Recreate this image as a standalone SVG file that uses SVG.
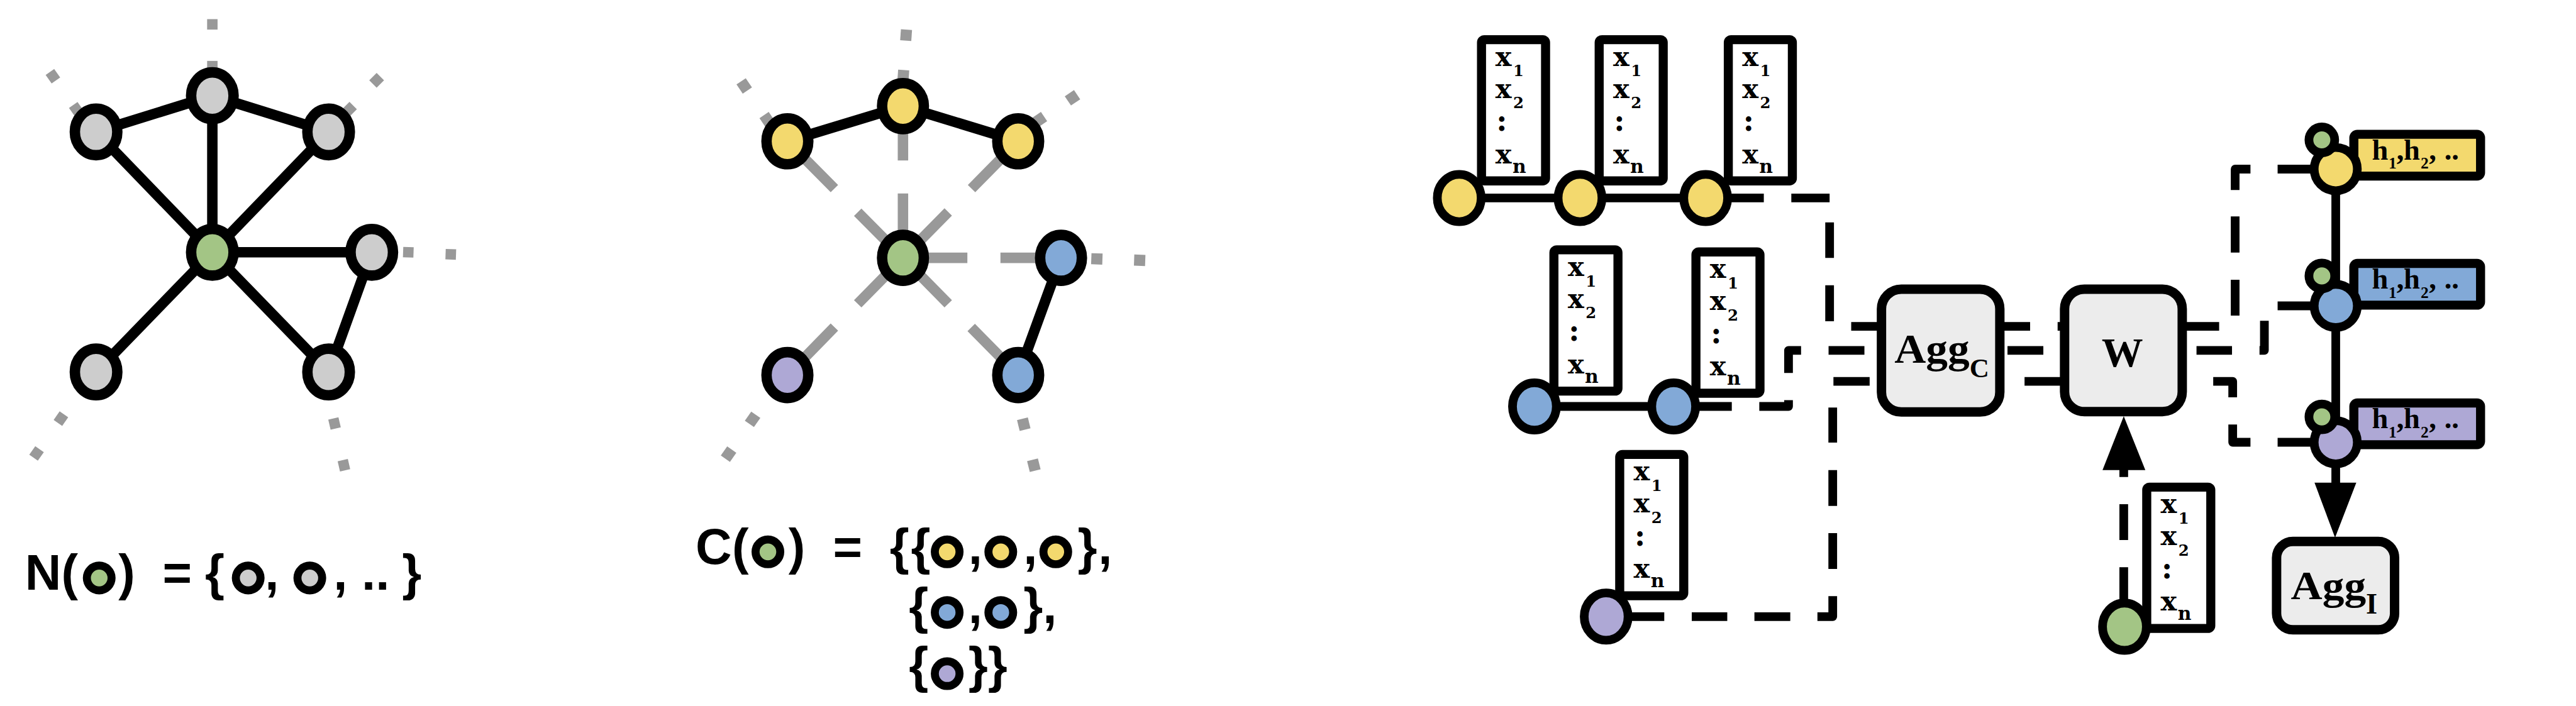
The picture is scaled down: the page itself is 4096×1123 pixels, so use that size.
<svg xmlns="http://www.w3.org/2000/svg" width="4096" height="1123" viewBox="0 0 4096 1123">
<defs>
<style>
.e{stroke:#000;stroke-width:30;fill:none}
.ge{stroke:#999;stroke-width:30;fill:none}
.dot{fill:#999}
.c{stroke:#000;stroke-width:25;fill:none}
.arr{fill:#000}
.n{stroke:#000;stroke-width:30}
.n2{stroke:#000;stroke-width:25}
.fc{stroke:#000;stroke-width:23}
.gray{fill:#cdcdcd}.grn{fill:#a3c585}.yel{fill:#f3d96e}.blu{fill:#82a9d7}.pur{fill:#aea8d5}
.box{fill:#fff;stroke:#000;stroke-width:26}
.agg{fill:#ececec;stroke:#000;stroke-width:27}
.lab{stroke:#000;stroke-width:26}
.sym{font-family:"Liberation Sans",Arial,sans-serif;font-weight:bold;font-size:144px;text-anchor:middle;fill:#000}
.xv{font-family:"DejaVu Serif",serif;font-weight:bold;font-size:78px;fill:#000}
.xc{font-family:"DejaVu Serif",serif;font-weight:bold;font-size:84px;fill:#000;text-anchor:middle}
.xs{font-family:"DejaVu Serif",serif;font-weight:bold;font-size:44px;fill:#000}
.xn{font-family:"DejaVu Serif",serif;font-weight:bold;font-size:54px;fill:#000}
.ag{font-family:"Liberation Serif","Times New Roman",serif;font-weight:bold;fill:#000}
.hl{font-family:"Liberation Serif","Times New Roman",serif;font-weight:bold;font-size:84px;fill:#000}
.hs{font-size:46px}
</style>
</defs>
<rect x="0" y="0" width="4096" height="1123" fill="#fff"/>
<g transform="scale(0.5535)">
<g id="connectors">
  <g class="dot">
    <rect x="-15" y="-15" width="30" height="30" transform="translate(610,70)"/>
    <rect x="-15" y="-15" width="30" height="30" transform="translate(610,190)"/>
    <rect x="-15" y="-15" width="30" height="30" transform="translate(152,219) rotate(55)"/>
    <rect x="-15" y="-15" width="30" height="30" transform="translate(219,314) rotate(55)"/>
    <rect x="-15" y="-15" width="30" height="30" transform="translate(1082,231) rotate(45)"/>
    <rect x="-15" y="-15" width="30" height="30" transform="translate(1004,314) rotate(45)"/>
    <rect x="-15" y="-15" width="30" height="30" transform="translate(1173,725) rotate(2)"/>
    <rect x="-15" y="-15" width="30" height="30" transform="translate(1295,731) rotate(2)"/>
    <rect x="-15" y="-15" width="30" height="30" transform="translate(175,1203) rotate(35)"/>
    <rect x="-15" y="-15" width="30" height="30" transform="translate(105,1303) rotate(35)"/>
    <rect x="-15" y="-15" width="30" height="30" transform="translate(961,1217) rotate(-13)"/>
    <rect x="-15" y="-15" width="30" height="30" transform="translate(988,1337) rotate(-13)"/>
    <rect x="-16" y="-16" width="32" height="32" transform="translate(2603,101) rotate(4)"/>
    <rect x="-16" y="-16" width="32" height="32" transform="translate(2595,217) rotate(4)"/>
    <rect x="-16" y="-16" width="32" height="32" transform="translate(2138,247) rotate(56)"/>
    <rect x="-16" y="-16" width="32" height="32" transform="translate(2204,344) rotate(56)"/>
    <rect x="-16" y="-16" width="32" height="32" transform="translate(3081,281) rotate(-34)"/>
    <rect x="-16" y="-16" width="32" height="32" transform="translate(2986,344) rotate(-34)"/>
    <rect x="-16" y="-16" width="32" height="32" transform="translate(3151,744) rotate(2)"/>
    <rect x="-16" y="-16" width="32" height="32" transform="translate(3274,748) rotate(2)"/>
    <rect x="-16" y="-16" width="32" height="32" transform="translate(2162,1205) rotate(35)"/>
    <rect x="-16" y="-16" width="32" height="32" transform="translate(2093,1305) rotate(35)"/>
    <rect x="-16" y="-16" width="32" height="32" transform="translate(2941,1219) rotate(-14)"/>
    <rect x="-16" y="-16" width="32" height="32" transform="translate(2970,1337) rotate(-14)"/>
  </g>
  <path class="e" d="M276 379L610 275M610 275L944 379M610 275L610 725M276 379L610 725M944 379L610 725M610 725L1068 725M610 725L276 1069M610 725L944 1069M1068 725L944 1069"/>
  <path class="ge" d="M2594 741V556M2594 461V305M2594 741L2464 610M2397 542L2262 406M2594 741L2724 609M2791 542L2925 406M2594 741H2779M2874 741H3048M2594 741L2464 873M2397 940L2262 1078M2594 741L2724 873M2790 941L2925 1078"/>
  <path class="e" d="M2262 406L2594 305L2925 406M3048 741L2925 1078"/>
  <path class="c" d="M4192 569H5067M4408 1168H4975M4614 1772H4781"/>
  <path class="c" stroke-linejoin="round" d="M5146 569H5256M5256 639V741M5256 820V923M5318 938H5405"/>
  <path class="c" stroke-linejoin="round" d="M5054 1168H5138V1150M5138 1072V1007H5174M5253 1007H5356"/>
  <path class="c" stroke-linejoin="round" d="M4860 1772H4962M5040 1772H5143M5221 1772H5265V1713M5265 1635V1532M5265 1454V1351M5265 1272V1171M5267 1096H5371"/>
  <path class="c" d="M5745 938H5832M5911 938H5931M5767 1007H5870M5816 1096H5931"/>
  <path class="c" stroke-linejoin="round" d="M6269 938H6375M6421 907V804M6421 726V622M6421 546V486H6465M6543 486H6650"/>
  <path class="c" stroke-linejoin="round" d="M6310 1007H6412M6491 1007H6505V922M6543 879H6650"/>
  <path class="c" stroke-linejoin="round" d="M6358 1096H6414V1142M6414 1220V1271H6465M6543 1271H6650"/>
  <path class="c" d="M6710 486V1390"/>
  <polygon class="arr" points="6649,1387 6769,1387 6708,1545"/>
  <path class="c" d="M6101 1340V1371M6101 1449V1552M6101 1630V1740"/>
  <polygon class="arr" points="6040,1351 6163,1351 6101,1196"/>
</g>

<g id="n-top"><ellipse class="n gray" cx="610" cy="275" rx="61" ry="67"/></g>
<g id="n-ul"><ellipse class="n gray" cx="276" cy="379" rx="61" ry="67"/></g>
<g id="n-ur"><ellipse class="n gray" cx="944" cy="379" rx="61" ry="67"/></g>
<g id="n-center"><ellipse class="n grn" cx="610" cy="725" rx="61" ry="67"/></g>
<g id="n-right"><ellipse class="n gray" cx="1068" cy="725" rx="61" ry="67"/></g>
<g id="n-bl"><ellipse class="n gray" cx="276" cy="1069" rx="61" ry="67"/></g>
<g id="n-br"><ellipse class="n gray" cx="944" cy="1069" rx="61" ry="67"/></g>

<g id="c-top"><ellipse class="n yel" cx="2594" cy="305" rx="60" ry="66"/></g>
<g id="c-ul"><ellipse class="n yel" cx="2262" cy="406" rx="60" ry="66"/></g>
<g id="c-ur"><ellipse class="n yel" cx="2925" cy="406" rx="60" ry="66"/></g>
<g id="c-center"><ellipse class="n grn" cx="2594" cy="741" rx="60" ry="66"/></g>
<g id="c-right"><ellipse class="n blu" cx="3048" cy="741" rx="60" ry="66"/></g>
<g id="c-bl"><ellipse class="n pur" cx="2262" cy="1078" rx="60" ry="66"/></g>
<g id="c-br"><ellipse class="n blu" cx="2925" cy="1078" rx="60" ry="66"/></g>

<g id="formula-N">
  <text class="sym" x="124" y="1694">N</text>
  <text class="sym" x="200" y="1694">(</text>
  <circle class="fc grn" cx="285" cy="1661" r="35.5"/>
  <text class="sym" x="364" y="1694">)</text>
  <text class="sym" x="509" y="1694">=</text>
  <text class="sym" x="617" y="1694">{</text>
  <circle class="fc gray" cx="713" cy="1661" r="35.5"/>
  <text class="sym" x="781" y="1694">,</text>
  <circle class="fc gray" cx="890" cy="1661" r="35.5"/>
  <text class="sym" x="978" y="1694">,</text>
  <text class="sym" x="1079" y="1694">..</text>
  <text class="sym" x="1183" y="1694">}</text>
</g>

<g id="formula-C">
  <text class="sym" x="2050" y="1620">C</text>
  <text class="sym" x="2127" y="1620">(</text>
  <circle class="fc grn" cx="2206" cy="1586" r="35.5"/>
  <text class="sym" x="2289" y="1620">)</text>
  <text class="sym" x="2435" y="1620">=</text>
  <text class="sym" x="2584" y="1620">{</text>
  <text class="sym" x="2645" y="1620">{</text>
  <circle class="fc yel" cx="2721" cy="1586" r="35.5"/>
  <text class="sym" x="2802" y="1620">,</text>
  <circle class="fc yel" cx="2875" cy="1586" r="35.5"/>
  <text class="sym" x="2960" y="1620">,</text>
  <circle class="fc yel" cx="3033" cy="1586" r="35.5"/>
  <text class="sym" x="3124" y="1620">}</text>
  <text class="sym" x="3175" y="1620">,</text>
  <text class="sym" x="2639" y="1790">{</text>
  <circle class="fc blu" cx="2721" cy="1760" r="35.5"/>
  <text class="sym" x="2802" y="1790">,</text>
  <circle class="fc blu" cx="2875" cy="1760" r="35.5"/>
  <text class="sym" x="2968" y="1790">}</text>
  <text class="sym" x="3016" y="1790">,</text>
  <text class="sym" x="2639" y="1961">{</text>
  <circle class="fc pur" cx="2721" cy="1936" r="35.5"/>
  <text class="sym" x="2810" y="1961">}</text>
  <text class="sym" x="2866" y="1961">}</text>
</g>

<g id="y1">
  <rect class="box" x="4256" y="114" width="184" height="406" rx="8"/>
  <text class="xv" x="4296" y="189">x</text><text class="xs" x="4347" y="219">1</text>
  <text class="xv" x="4296" y="281">x</text><text class="xs" x="4347" y="311">2</text>
  <text class="xc" x="4314" y="376">:</text>
  <text class="xv" x="4296" y="469">x</text><text class="xn" x="4345" y="496">n</text>
  <ellipse class="n2 yel" cx="4192" cy="569" rx="63" ry="68"/>
</g>
<g id="y2">
  <rect class="box" x="4594" y="114" width="184" height="406" rx="8"/>
  <text class="xv" x="4634" y="189">x</text><text class="xs" x="4685" y="219">1</text>
  <text class="xv" x="4634" y="281">x</text><text class="xs" x="4685" y="311">2</text>
  <text class="xc" x="4652" y="376">:</text>
  <text class="xv" x="4634" y="469">x</text><text class="xn" x="4683" y="496">n</text>
  <ellipse class="n2 yel" cx="4539" cy="569" rx="63" ry="68"/>
</g>
<g id="y3">
  <rect class="box" x="4965" y="114" width="184" height="406" rx="8"/>
  <text class="xv" x="5005" y="189">x</text><text class="xs" x="5056" y="219">1</text>
  <text class="xv" x="5005" y="281">x</text><text class="xs" x="5056" y="311">2</text>
  <text class="xc" x="5023" y="376">:</text>
  <text class="xv" x="5005" y="469">x</text><text class="xn" x="5054" y="496">n</text>
  <ellipse class="n2 yel" cx="4900" cy="569" rx="63" ry="68"/>
</g>
<g id="b1">
  <rect class="box" x="4464" y="718" width="184" height="406" rx="8"/>
  <text class="xv" x="4504" y="793">x</text><text class="xs" x="4555" y="823">1</text>
  <text class="xv" x="4504" y="885">x</text><text class="xs" x="4555" y="915">2</text>
  <text class="xc" x="4522" y="980">:</text>
  <text class="xv" x="4504" y="1073">x</text><text class="xn" x="4553" y="1100">n</text>
  <ellipse class="n2 blu" cx="4408" cy="1168" rx="63" ry="68"/>
</g>
<g id="b2">
  <rect class="box" x="4872" y="724" width="184" height="406" rx="8"/>
  <text class="xv" x="4912" y="799">x</text><text class="xs" x="4963" y="829">1</text>
  <text class="xv" x="4912" y="891">x</text><text class="xs" x="4963" y="921">2</text>
  <text class="xc" x="4930" y="986">:</text>
  <text class="xv" x="4912" y="1079">x</text><text class="xn" x="4961" y="1106">n</text>
  <ellipse class="n2 blu" cx="4808" cy="1168" rx="63" ry="68"/>
</g>
<g id="p1">
  <rect class="box" x="4653" y="1306" width="184" height="406" rx="8"/>
  <text class="xv" x="4693" y="1381">x</text><text class="xs" x="4744" y="1411">1</text>
  <text class="xv" x="4693" y="1473">x</text><text class="xs" x="4744" y="1503">2</text>
  <text class="xc" x="4711" y="1568">:</text>
  <text class="xv" x="4693" y="1661">x</text><text class="xn" x="4742" y="1688">n</text>
  <ellipse class="n2 pur" cx="4614" cy="1772" rx="63" ry="68"/>
</g>
<g id="g-in">
  <rect class="box" x="6167" y="1400" width="184" height="406" rx="8"/>
  <text class="xv" x="6207" y="1475">x</text><text class="xs" x="6258" y="1505">1</text>
  <text class="xv" x="6207" y="1567">x</text><text class="xs" x="6258" y="1597">2</text>
  <text class="xc" x="6225" y="1662">:</text>
  <text class="xv" x="6207" y="1755">x</text><text class="xn" x="6256" y="1782">n</text>
  <ellipse class="n2 grn" cx="6103" cy="1801" rx="63" ry="68"/>
</g>

<g id="aggC">
  <rect class="agg" x="5405" y="831" width="340" height="353" rx="57"/>
  <text class="ag" x="5442" y="1042" font-size="119" textLength="216" lengthAdjust="spacingAndGlyphs">Agg</text>
  <text class="ag" x="5658" y="1084" font-size="78">C</text>
</g>
<g id="W">
  <rect class="agg" x="5931" y="831" width="338" height="352" rx="57"/>
  <text class="ag" x="6097" y="1054" font-size="119" text-anchor="middle">W</text>
</g>
<g id="aggI">
  <rect class="agg" x="6540" y="1556" width="339" height="254" rx="47"/>
  <text class="ag" x="6581" y="1721" font-size="115" textLength="216" lengthAdjust="spacingAndGlyphs">Agg</text>
  <text class="ag" x="6797" y="1764" font-size="84">I</text>
</g>

<g id="out-y">
  <rect class="lab yel" x="6762" y="386" width="364" height="120" rx="10"/>
  <text class="hl" y="459"><tspan x="6814">h</tspan><tspan class="hs" x="6862" y="485">1</tspan><tspan x="6885" y="459">,</tspan><tspan x="6905">h</tspan><tspan class="hs" x="6954" y="485">2</tspan><tspan x="6978" y="459">,</tspan><tspan x="7022">..</tspan></text>
  <circle class="n2 yel" cx="6710" cy="486" r="62"/>
  <circle class="n2 grn" cx="6670" cy="402" r="37"/>
</g>
<g id="out-b">
  <rect class="lab blu" x="6762" y="757" width="364" height="120" rx="10"/>
  <text class="hl" y="830"><tspan x="6814">h</tspan><tspan class="hs" x="6862" y="856">1</tspan><tspan x="6885" y="830">,</tspan><tspan x="6905">h</tspan><tspan class="hs" x="6954" y="856">2</tspan><tspan x="6978" y="830">,</tspan><tspan x="7022">..</tspan></text>
  <circle class="n2 blu" cx="6710" cy="879" r="62"/>
  <circle class="n2 grn" cx="6670" cy="793" r="37"/>
</g>
<g id="out-p">
  <rect class="lab pur" x="6762" y="1158" width="364" height="120" rx="10"/>
  <text class="hl" y="1231"><tspan x="6814">h</tspan><tspan class="hs" x="6862" y="1257">1</tspan><tspan x="6885" y="1231">,</tspan><tspan x="6905">h</tspan><tspan class="hs" x="6954" y="1257">2</tspan><tspan x="6978" y="1231">,</tspan><tspan x="7022">..</tspan></text>
  <circle class="n2 pur" cx="6710" cy="1271" r="62"/>
  <circle class="n2 grn" cx="6670" cy="1198" r="37"/>
</g>
</g>
</svg>
